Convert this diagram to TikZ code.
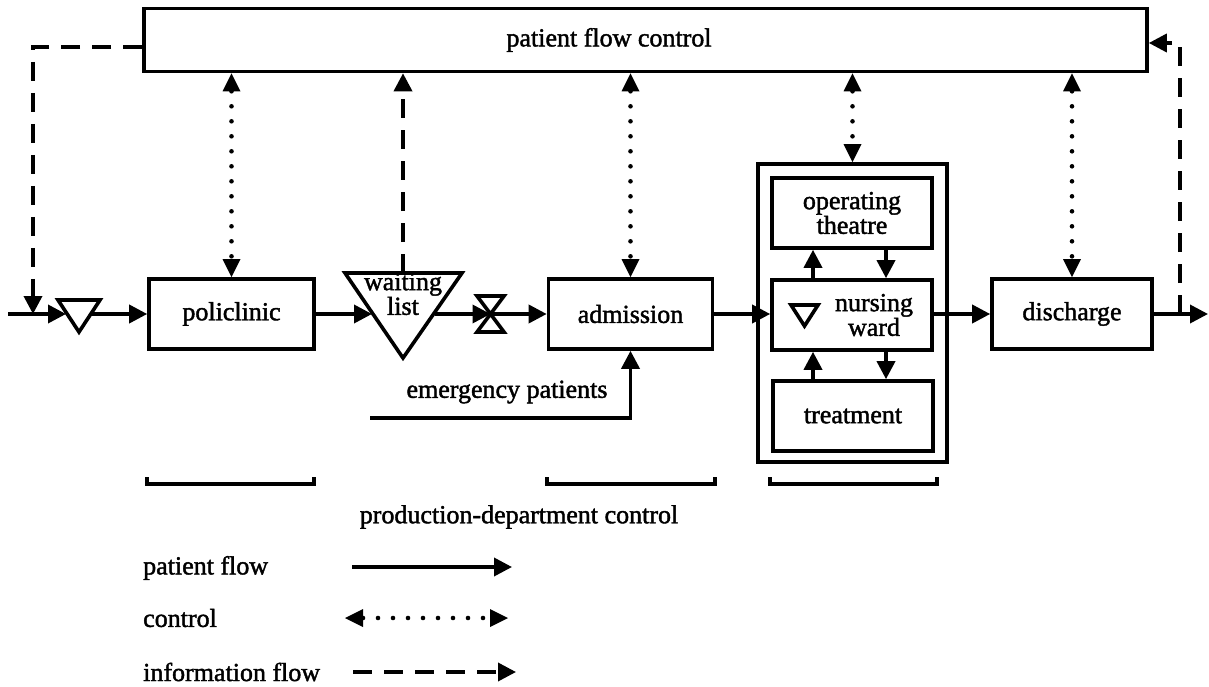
\documentclass[tikz,border=0pt]{standalone}
\usepackage{fontspec}
\setmainfont{Liberation Serif}[FakeBold=1.6, AutoFakeBold=1.6]
\usetikzlibrary{arrows.meta}
\begin{document}
\begin{tikzpicture}[x=1pt,y=-1pt,
  every node/.style={font=\fontsize{26}{19}\selectfont\bfseries, inner sep=0pt},
  box/.style={draw, line width=3.6pt, rectangle, inner sep=0pt},
  flow/.style={line width=3.6pt, -{Triangle[length=18pt,width=18pt]}},
  ctrl/.style={line width=4.6pt, dash pattern=on 0pt off 15pt, line cap=round,
    {Triangle[length=18pt,width=18pt,line width=0pt]}-{Triangle[length=18pt,width=18pt,line width=0pt]}},
  info/.style={line width=3.6pt, dash pattern=on 19pt off 12pt, -{Triangle[length=18pt,width=18pt]}},
  symb/.style={line width=3.6pt, line join=miter},
  bracket/.style={line width=3.6pt}
]
\useasboundingbox (0,0) rectangle (1209,687);

% central control box
\node[box, minimum width=1003pt, minimum height=63pt] (pfc) at (645.5,40) {};
\node (pfctext) at (609,40) {patient flow control};

% production departments
\node[box, minimum width=165pt, minimum height=70pt] (poli) at (231.5,314) {policlinic};
\node[box, minimum width=164pt, minimum height=70pt] (adm) at (630.5,314) {admission};
\node[box, minimum width=189pt, minimum height=298pt] (unit) at (852.5,313) {};
\node[box, minimum width=160pt, minimum height=70pt, align=center] (ot) at (852,213) {operating\\theatre};
\node[box, minimum width=160pt, minimum height=70pt] (nw) at (852,315) {};
\node[align=center] (nwtext) at (874,315) {nursing\\ward};
\node[box, minimum width=160pt, minimum height=70pt] (treat) at (853,416) {treatment};
\node[box, minimum width=160pt, minimum height=70pt] (dis) at (1072,314) {discharge};

% buffers and valve
\draw[symb] (58,300) -- (100,300) -- (79,332) -- cycle;
\draw[symb] (345,273) -- (462,273) -- (403,358) -- cycle;
\node[align=center] (wltext) at (403,294) {waiting\\list};
\draw[symb] (477,296) -- (504,296) -- (490.5,314) -- cycle;
\draw[symb] (477,332) -- (504,332) -- (490.5,314) -- cycle;
\draw[symb] (791,305) -- (818,305) -- (804.5,326) -- cycle;

% points on the patient flow line
\coordinate (in) at (8,314);
\coordinate (join) at (33,314);
\coordinate (b1in) at (66,314);
\coordinate (b1out) at (92,314);
\coordinate (wlin) at (372,314);
\coordinate (wlout) at (435,314);
\coordinate (wltop) at (403,273);
\coordinate (valve) at (490.5,314);
\coordinate (out) at (1208,314);
\coordinate (infotap) at (1180,314);
\coordinate (infoup) at (1180,43);
\coordinate (infoleft) at (33,47);
\coordinate (em) at (370,418);
\coordinate (xu) at (813,0);
\coordinate (xd) at (886,0);

% patient flow
\draw[flow] (in) -- (b1in);
\draw[flow] (b1out) -- (poli.west);
\draw[flow] (poli.east) -- (wlin);
\draw[flow] (wlout) -- (valve);
\draw[flow] (valve) -- (adm.west);
\draw[flow] (adm.east) -- (adm.east -| nw.west);
\draw[flow] (dis.west -| nw.east) -- (dis.west);
\draw[flow] (dis.east) -- (out);
\draw[flow] (em) -- (adm.south |- em) -- (adm.south);
\node (emtext) at (507,392) {emergency patients};

% flows inside the nursing unit
\draw[flow] (nw.north -| xu) -- (ot.south -| xu);
\draw[flow] (ot.south -| xd) -- (nw.north -| xd);
\draw[flow] (treat.north -| xu) -- (nw.south -| xu);
\draw[flow] (nw.south -| xd) -- (treat.north -| xd);

% control links
\draw[ctrl] (pfc.south -| poli.north) -- (poli.north);
\draw[ctrl] (pfc.south -| adm.north) -- (adm.north);
\draw[ctrl] (pfc.south -| unit.north) -- (unit.north);
\draw[ctrl] (pfc.south -| dis.north) -- (dis.north);

% information flow
\draw[info] (wltop) -- (pfc.south -| wltop);
\draw[info] ([yshift=-7pt]pfc.west) -- (infoleft) -- (join);
\draw[info] (infotap) -- (infoup) -- (pfc.east |- infoup);

% production-department brackets
\draw[bracket] (147,477) -- (147,484) -- (314,484) -- (314,477);
\draw[bracket] (547,477) -- (547,484) -- (715,484) -- (715,477);
\draw[bracket] (770,477) -- (770,484) -- (937,484) -- (937,477);
\node (pdc) at (519,517) {production-department control};

% legend
\node[anchor=west] (lg1) at (143,568) {patient flow};
\node[anchor=west] (lg2) at (143,618) {control};
\node[anchor=west] (lg3) at (143,672) {information flow};
\coordinate (l1a) at (352,567); \coordinate (l1b) at (512,567);
\coordinate (l2a) at (345,618); \coordinate (l2b) at (508,618);
\coordinate (l3a) at (353,672); \coordinate (l3b) at (516,672);
\draw[flow] (l1a) -- (l1b);
\draw[ctrl] (l2a) -- (l2b);
\draw[info] (l3a) -- (l3b);
\end{tikzpicture}
\end{document}
